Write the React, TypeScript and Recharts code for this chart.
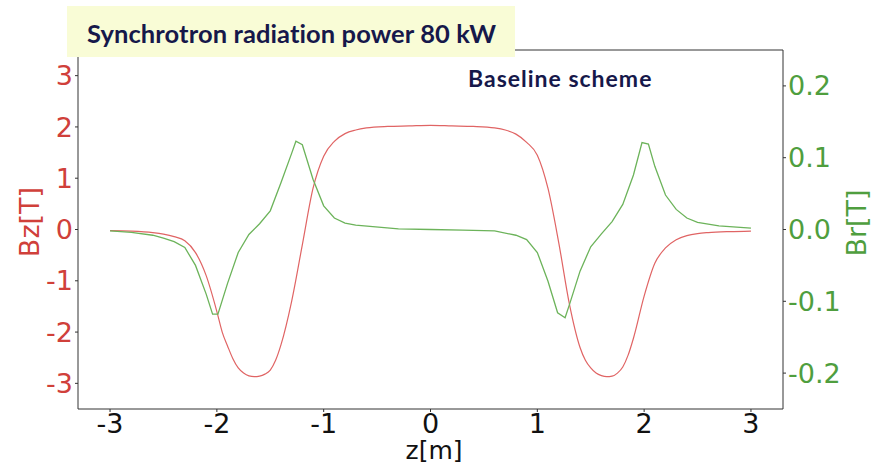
import React from "react";
import {
  LineChart,
  Line,
  XAxis,
  YAxis,
  ReferenceLine,
} from "recharts";

// Bz (left axis, tesla)
const bzZ = [
  -3.0, -2.8, -2.6, -2.5, -2.4, -2.3, -2.2, -2.1, -2.0, -1.95, -1.9, -1.85,
  -1.8, -1.75, -1.7, -1.65, -1.6, -1.55, -1.5, -1.45, -1.4, -1.3, -1.2, -1.1,
  -1.0, -0.9, -0.8, -0.7, -0.6, -0.4, -0.2, 0, 0.2, 0.4, 0.6, 0.7, 0.8, 0.9,
  1.0, 1.1, 1.2, 1.3, 1.4, 1.45, 1.5, 1.55, 1.6, 1.65, 1.7, 1.75, 1.8, 1.85,
  1.9, 2.0, 2.1, 2.2, 2.3, 2.4, 2.5, 2.6, 2.8, 3.0,
];
const bzValues = [
  -0.02, -0.03, -0.06, -0.09, -0.14, -0.22, -0.45, -0.9, -1.6, -2.0, -2.27,
  -2.52, -2.7, -2.8, -2.855, -2.87, -2.86, -2.82, -2.74, -2.55, -2.25, -1.4,
  -0.3, 0.8, 1.43, 1.72, 1.87, 1.94, 1.98, 2.01, 2.02, 2.03, 2.02, 2.01, 1.98,
  1.94, 1.86, 1.7, 1.45, 0.8, -0.25, -1.45, -2.3, -2.55, -2.7, -2.8, -2.85,
  -2.87, -2.86, -2.8, -2.68, -2.45, -2.12, -1.3, -0.66, -0.36, -0.2, -0.12,
  -0.08, -0.06, -0.04, -0.03,
];

// Br (right axis, tesla)
const brZ = [
  -3.0, -2.8, -2.6, -2.5, -2.4, -2.3, -2.2, -2.1, -2.04, -1.99, -1.9, -1.8,
  -1.7, -1.6, -1.5, -1.4, -1.3, -1.26, -1.2, -1.1, -1.0, -0.9, -0.8, -0.7,
  -0.3, 0, 0.3, 0.6, 0.8, 0.9, 1.0, 1.1, 1.19, 1.26, 1.3, 1.4, 1.5, 1.6, 1.7,
  1.8, 1.9, 1.98, 2.04, 2.1, 2.2, 2.3, 2.4, 2.5, 2.7, 3.0,
];
const brValues = [
  -0.002, -0.004, -0.008, -0.012, -0.017, -0.025, -0.05, -0.09, -0.118, -0.118,
  -0.075, -0.032, -0.007, 0.008, 0.026, 0.065, 0.106, 0.123, 0.118, 0.07,
  0.033, 0.016, 0.009, 0.006, 0.001, 0.0, -0.001, -0.002, -0.008, -0.014,
  -0.032, -0.072, -0.116, -0.123, -0.105, -0.058, -0.024, -0.006, 0.011, 0.035,
  0.076, 0.121, 0.119, 0.088, 0.048, 0.028, 0.016, 0.01, 0.005, 0.002,
];

const zTicks = [-3, -2, -1, 0, 1, 2, 3];
const bzTicks = [-3, -2, -1, 0, 1, 2, 3];
const brTicks = [-0.2, -0.1, 0, 0.1, 0.2];

const bzData = bzZ.map((z, i) => ({ z, bz: bzValues[i] }));
const brData = brZ.map((z, i) => ({ z, br: brValues[i] }));

const RED = "#d0403a";
const GREEN = "#4f9e3e";
const NAVY = "#16184a";
const FONT = "'DejaVu Sans', Verdana, sans-serif";

export default function App() {
  return (
    <div
      style={{
        position: "absolute",
        left: 0,
        top: 0,
        width: 871,
        height: 463,
        background: "#fff",
        overflow: "hidden",
      }}
    >
      <LineChart
        width={871}
        height={463}
        margin={{ top: 50, right: 0, bottom: 0, left: 0 }}
      >
        <XAxis
          dataKey="z"
          type="number"
          domain={[-3.3, 3.3]}
          ticks={zTicks}
          allowDataOverflow
          height={54}
          stroke="#333"
          tickSize={3}
          tick={{ fill: "#111", fontSize: 27, fontFamily: FONT }}
        />
        <YAxis
          yAxisId="bz"
          domain={[-3.5, 3.5]}
          ticks={bzTicks}
          width={78}
          stroke="#333"
          tickSize={3}
          tick={{ fill: RED, fontSize: 27, fontFamily: FONT }}
        />
        <YAxis
          yAxisId="br"
          orientation="right"
          domain={[-0.25, 0.25]}
          ticks={brTicks}
          width={88}
          stroke="#333"
          tickSize={3}
          tickFormatter={(v: number) => v.toFixed(1)}
          tick={{ fill: GREEN, fontSize: 27, fontFamily: FONT }}
        />
        <ReferenceLine yAxisId="bz" y={3.5} stroke="#333" />
        <Line
          yAxisId="bz"
          data={bzData}
          dataKey="bz"
          type="monotone"
          stroke="#e06464"
          strokeWidth={1.2}
          dot={false}
          isAnimationActive={false}
        />
        <Line
          yAxisId="br"
          data={brData}
          dataKey="br"
          type="linear"
          stroke="#6cb35a"
          strokeWidth={1.3}
          dot={false}
          isAnimationActive={false}
        />
      </LineChart>

      <div
        style={{
          position: "absolute",
          left: 67,
          top: 6,
          width: 448,
          height: 51,
          background: "#f9fcd6",
        }}
      />
      <div
        style={{
          position: "absolute",
          left: 87,
          top: 18,
          fontFamily: "Lato, sans-serif",
          fontWeight: 700,
          fontSize: 25.5,
          letterSpacing: 0.1,
          color: NAVY,
          whiteSpace: "nowrap",
          lineHeight: 1.2,
        }}
      >
        Synchrotron radiation power 80 kW
      </div>
      <div
        style={{
          position: "absolute",
          left: 468,
          top: 65,
          fontFamily: "Lato, sans-serif",
          fontWeight: 700,
          fontSize: 23,
          letterSpacing: 1,
          color: NAVY,
          whiteSpace: "nowrap",
          lineHeight: 1.2,
        }}
      >
        Baseline scheme
      </div>
      <div
        style={{
          position: "absolute",
          left: 29,
          top: 222,
          transform: "translate(-50%, -50%) rotate(-90deg)",
          fontFamily: FONT,
          fontSize: 27,
          color: RED,
          whiteSpace: "nowrap",
        }}
      >
        Bz[T]
      </div>
      <div
        style={{
          position: "absolute",
          left: 856,
          top: 223,
          transform: "translate(-50%, -50%) rotate(-90deg)",
          fontFamily: FONT,
          fontSize: 27,
          color: GREEN,
          whiteSpace: "nowrap",
        }}
      >
        Br[T]
      </div>
      <div
        style={{
          position: "absolute",
          left: 434,
          top: 438,
          transform: "translateX(-50%)",
          fontFamily: FONT,
          fontSize: 25,
          color: "#111",
          whiteSpace: "nowrap",
          lineHeight: "25px",
        }}
      >
        z[m]
      </div>
    </div>
  );
}
